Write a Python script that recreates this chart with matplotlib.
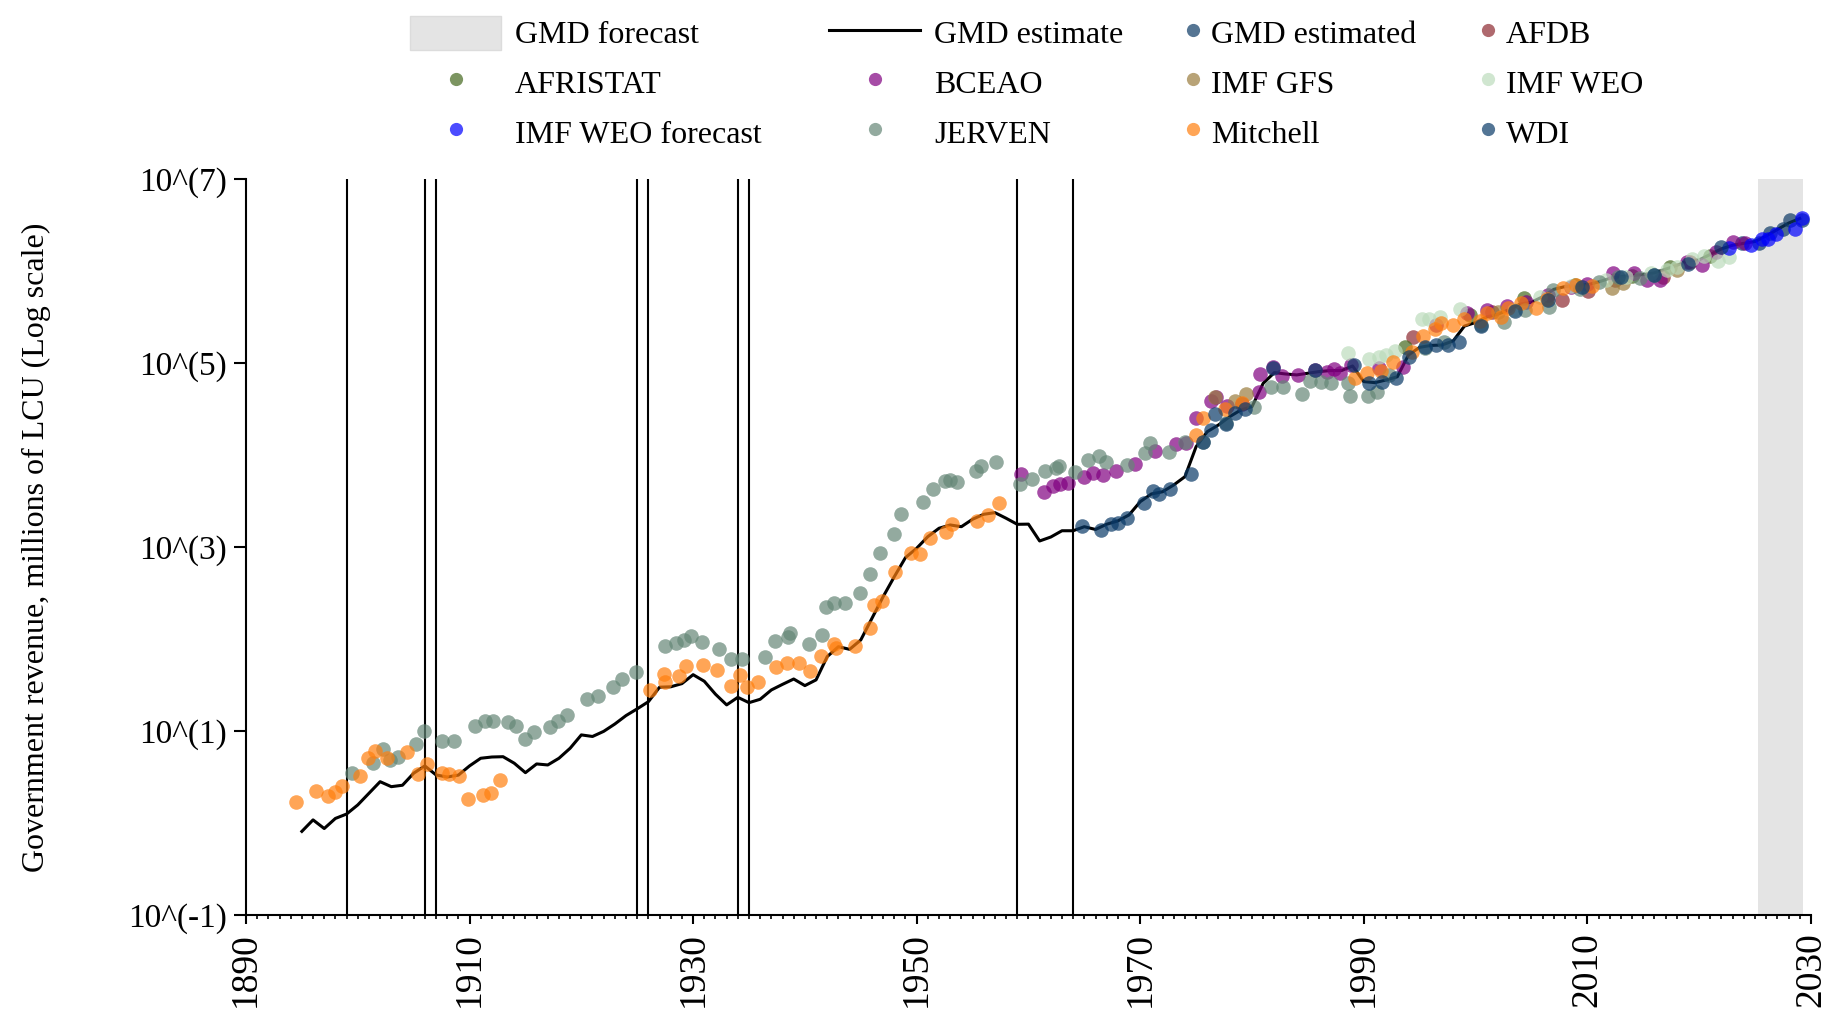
import matplotlib
matplotlib.use("Agg")
import matplotlib.pyplot as plt
from matplotlib.lines import Line2D
from matplotlib.patches import Patch
from matplotlib.ticker import FixedLocator, MultipleLocator, NullLocator

plt.rcParams['font.family'] = ['Liberation Serif', 'DejaVu Serif']

# GMD estimate (line), one value per year 1895-2029
gmd_years = list(range(1895, 2030))
gmd_vals = [0.81, 1.08, 0.87, 1.12, 1.25, 1.57, 2.10, 2.81, 2.48, 2.57,
            3.47, 4.17, 3.33, 3.16, 3.31, 4.17, 5.05, 5.21, 5.25, 4.46,
            3.52, 4.38, 4.27, 5.05, 6.49, 9.06, 8.71, 9.9, 11.9, 14.7,
            17.4, 20.8, 29.9, 30.2, 32.7, 40.9, 34.7, 25.1, 19.2, 23.2,
            20.3, 22.1, 27.9, 32.1, 36.7, 31.1, 35.9, 64.3, 82.4, 77.1,
            97.5, 168, 288, 475, 766, 968, 1294, 1596, 1734, 1660,
            2000, 2265, 2360, 2051, 1762, 1770, 1161, 1282, 1500, 1500,
            1660, 1549, 1766, 1919, 2228, 3105, 3767, 3981, 4721, 5808,
            12300, 17910, 21180, 26060, 30830, 33500, 60100, 78500, 75860, 74130,
            77270, 80540, 82600, 82600, 92680, 62660, 61090, 65310, 70790, 122200,
            147900, 154900, 156700, 173800, 251200, 275400, 316200, 338800, 380200, 436500,
            457100, 524800, 631000, 676100, 691800, 707900, 758600, 831800, 871000, 891300,
            912000, 955000, 1047000, 1148000, 1288000, 1318000, 1514000, 1738000, 1905000, 1995000,
            2089000, 2399000, 2818000, 3311000, 3715000]

# source series (year, value)
gmd_estimated_x = [2023.8, 2025.4, 2026.3, 2027.5, 2028.1, 2029.2]
gmd_estimated_y = [2018000, 2018000, 2588000, 2884000, 3548000, 3614000]

afdb_x = [1994.4, 2001.5, 2007.7, 2010.1, 2012.5, 2016.8, 2019.2]
afdb_y = [193200, 360000, 484200, 602600, 794300, 870000, 1259000]

afristat_x = [1993.7, 1999.5, 2004.3, 2008.9, 2014.0, 2017.4, 2021.0]
afristat_y = [147900, 330000, 504700, 707900, 880000, 1114000, 1450000]

bceao_x = [1959.3, 1961.4, 1962.2, 1962.8, 1963.5, 1965.0, 1965.8, 1966.7, 1967.8, 1969.5,
           1971.3, 1973.2, 1974.1, 1975.0, 1976.3, 1976.8, 1977.8, 1979.1, 1980.6, 1980.7,
           1981.9, 1982.7, 1984.1, 1985.6, 1986.7, 1987.3, 1987.9, 1988.9, 1991.4, 1993.5,
           1996.5, 1999.2, 2001.0, 2002.8, 2004.5, 2006.5, 2008.5, 2010.0, 2012.3, 2014.2,
           2015.3, 2016.5, 2018.9, 2020.3, 2021.5, 2023.0, 2024.1]
bceao_y = [6209, 3990, 4603, 4842, 4920, 5715, 6310, 6053, 6699, 7980,
           11140, 13060, 13400, 25120, 39000, 43050, 34360, 35810, 48750, 76740,
           89330, 72440, 73280, 84140, 80540, 86100, 78520, 94410, 87500, 91200,
           261200, 349900, 380200, 413000, 457100, 549500, 676100, 724400, 944100, 944100,
           798000, 798000, 1259000, 1156000, 1614000, 2070000, 2018000]

imf_gfs_x = [1976.7, 1978.5, 1979.5, 2002.0, 2012.2, 2013.2, 2018.0]
imf_gfs_y = [43050, 38900, 46030, 354800, 648600, 734500, 1030000]

imf_weo_x = [1988.6, 1990.5, 1991.4, 1992.0, 1992.8, 1995.2, 1995.8, 1996.8, 1998.6, 2003.4,
             2005.8, 2008.5, 2011.7, 2013.5, 2015.7, 2017.1, 2018.0, 2019.4, 2020.4, 2021.7,
             2022.7]
imf_weo_y = [128800, 109600, 115300, 122200, 136100, 300600, 300600, 318400, 382800, 376700,
             526000, 691800, 798000, 851100, 944100, 1026000, 1096000, 1340000, 1455000, 1297000,
             1432000]

imf_weo_fc_x = [2022.7, 2024.6, 2025.6, 2026.2, 2026.9, 2028.6, 2029.2]
imf_weo_fc_y = [1795000, 1905000, 2249000, 2198000, 2547000, 2884000, 3802000]

jerven_x = [1899.5, 1901.4, 1902.3, 1902.9, 1903.6, 1905.2, 1905.9, 1907.5, 1908.6, 1910.5,
            1911.4, 1912.1, 1913.4, 1914.2, 1915.0, 1915.8, 1917.2, 1917.9, 1918.7, 1920.5,
            1921.5, 1922.8, 1923.6, 1924.9, 1927.5, 1928.5, 1929.2, 1929.8, 1930.8, 1932.3,
            1933.4, 1934.4, 1936.4, 1937.3, 1938.5, 1938.65, 1940.4, 1941.5, 1941.9, 1942.6,
            1943.6, 1944.9, 1945.8, 1946.7, 1948.0, 1948.6, 1950.6, 1951.5, 1952.5, 1953.0,
            1953.6, 1955.3, 1955.8, 1957.1, 1959.2, 1960.3, 1961.5, 1962.5, 1962.7, 1964.2,
            1965.3, 1966.3, 1966.9, 1968.8, 1970.4, 1970.9, 1972.6, 1974.0, 1975.6, 1977.7,
            1980.2, 1981.7, 1982.8, 1984.5, 1985.2, 1986.2, 1987.1, 1988.6, 1988.75, 1990.4,
            1991.2, 1992.3, 1995.5, 1997.2, 2000.5, 2002.5, 2004.4, 2006.6, 2006.9, 2009.3,
            2011.0, 2012.75, 2014.7, 2016.0]
jerven_y = [3.47, 4.53, 6.32, 4.84, 5.18, 7.23, 10.1, 7.78, 7.85, 11.3,
            12.9, 12.9, 12.6, 11.3, 8.18, 9.84, 11.1, 12.9, 14.9, 22.2,
            24.0, 29.9, 36.7, 44.2, 84.3, 90.6, 97.7, 107, 93.5, 77.3,
            60.1, 60.1, 63.1, 95.5, 104, 115, 88.1, 110, 221, 248,
            248, 313, 509, 867, 1374, 2286, 3112, 4236, 5260, 5346,
            5129, 6761, 7586, 8318, 4842, 5445, 6761, 7161, 7586, 6531,
            8750, 9750, 8472, 7780, 10420, 13400, 10860, 13960, 13960, 22080,
            33500, 55340, 54450, 46030, 64270, 62660, 61090, 60120, 43750, 44160,
            48750, 74130, 144500, 170600, 258800, 281200, 376700, 409300, 622300, 631000,
            760000, 867000, 831800, 900000]

mitchell_x = [1894.5, 1896.3, 1897.3, 1898.0, 1898.6, 1900.2, 1900.9, 1901.5, 1902.6, 1904.4,
              1905.4, 1906.2, 1907.5, 1908.2, 1909.1, 1909.9, 1911.2, 1911.9, 1912.7, 1926.1,
              1927.4, 1927.5, 1928.7, 1929.4, 1930.9, 1932.1, 1933.4, 1934.2, 1934.8, 1935.8,
              1937.4, 1938.4, 1939.5, 1940.5, 1941.4, 1942.6, 1942.8, 1944.5, 1945.8, 1946.2,
              1946.9, 1948.1, 1949.5, 1950.3, 1951.2, 1952.6, 1953.2, 1955.4, 1956.4, 1957.4,
              1975.0, 1975.6, 1977.6, 1979.1, 1989.2, 1990.3, 1991.5, 1992.6, 1994.3, 1995.3,
              1996.35, 1996.9, 1998.0, 1999.0, 2000.4, 2001.0, 2002.3, 2002.9, 2004.1, 2005.4,
              2006.4, 2007.8, 2009.0, 2010.4]
mitchell_y = [1.71, 2.23, 1.96, 2.19, 2.55, 3.27, 5.13, 6.07, 5.05, 5.96,
              3.38, 4.38, 3.47, 3.38, 3.24, 1.82, 2.01, 2.14, 2.93, 27.9,
              41.7, 34.4, 39.9, 51.3, 52.1, 46.0, 31.0, 40.6, 29.9, 34.4,
              49.2, 54.3, 55.3, 45.3, 65.3, 87.5, 79.1, 84.7, 131, 234,
              261, 540, 853, 839, 1242, 1469, 1778, 1932, 2228, 3034,
              16370, 25000, 31330, 37070, 69180, 77270, 82600, 103300, 132700, 196300,
              232300, 274200, 258800, 298500, 285800, 352400, 318400, 392600, 452900, 392600,
              492000, 648600, 704700, 687100]

wdi_x = [1964.8, 1966.5, 1967.4, 1968.0, 1968.8, 1970.3, 1971.1, 1971.7, 1972.7, 1974.5,
         1975.6, 1976.3, 1976.7, 1977.7, 1978.5, 1979.4, 1981.9, 1985.6, 1989.1, 1990.5,
         1991.6, 1992.9, 1994.0, 1995.5, 1996.5, 1997.5, 1998.5, 2000.5, 2003.5, 2006.5,
         2009.5, 2013.0, 2016.0, 2019.0, 2022.0]
wdi_y = [1679, 1517, 1791, 1837, 2084, 3034, 4064, 3733, 4305, 6266,
         13840, 18840, 27670, 21880, 28580, 31840, 88920, 84530, 94410, 60670,
         62090, 68710, 117000, 150000, 156300, 156300, 169800, 251200, 363100, 478600,
         660700, 851100, 912000, 1202000, 1820000]

event_years = [1899, 1906, 1907, 1925, 1926, 1934, 1935, 1959, 1964]
forecast_span = (2025.25, 2029.25)

xticks = [1890, 1910, 1930, 1950, 1970, 1990, 2010, 2030]
yticks = [1e-1, 1e1, 1e3, 1e5, 1e7]
ytick_labels = ['10^(-1)', '10^(1)', '10^(3)', '10^(5)', '10^(7)']

series = [
    ('GMD estimated', gmd_estimated_x, gmd_estimated_y, '#0d3a66'),
    ('AFDB', afdb_x, afdb_y, '#8e2a30'),
    ('AFRISTAT', afristat_x, afristat_y, '#44691e'),
    ('BCEAO', bceao_x, bceao_y, '#800080'),
    ('IMF GFS', imf_gfs_x, imf_gfs_y, '#9a7d3e'),
    ('IMF WEO', imf_weo_x, imf_weo_y, '#bcdcbc'),
    ('IMF WEO forecast', imf_weo_fc_x, imf_weo_fc_y, '#0000ff'),
    ('JERVEN', jerven_x, jerven_y, '#658777'),
    ('Mitchell', mitchell_x, mitchell_y, '#ff7f0e'),
    ('WDI', wdi_x, wdi_y, '#0a3a68'),
]
ALPHA = 0.7

fig = plt.figure(figsize=(18.37, 10.19), dpi=100)
ax = fig.add_axes([0.1339, 0.1021, 0.8519, 0.7223])

ax.axvspan(*forecast_span, color='#e4e4e4', lw=0, zorder=0)
for yr in event_years:
    ax.axvline(yr, color='black', lw=1.5, zorder=1)

ax.plot(gmd_years, gmd_vals, color='black', lw=2.2, zorder=2)
for name, xs, ys, col in series:
    ax.scatter(xs, ys, s=110, color=col, alpha=ALPHA, lw=0, zorder=3)

ax.set_yscale('log')
ax.set_xlim(1890, 2030)
ax.set_ylim(1e-1, 1e7)
ax.yaxis.set_major_locator(FixedLocator(yticks))
ax.yaxis.set_minor_locator(NullLocator())
ax.set_yticklabels(ytick_labels)
ax.xaxis.set_major_locator(FixedLocator(xticks))
ax.xaxis.set_minor_locator(MultipleLocator(1))
ax.tick_params(axis='y', which='major', length=8.5, width=1.5, labelsize=24, pad=5)
ax.tick_params(axis='x', which='major', length=6.5, width=1.5, labelsize=27,
               labelrotation=90, pad=6)
ax.tick_params(axis='x', which='minor', length=3.2, width=1.2)
for sp in ['top', 'right']:
    ax.spines[sp].set_visible(False)
for sp in ['left', 'bottom']:
    ax.spines[sp].set_linewidth(1.5)

ax.set_ylabel('Government revenue, millions of LCU (Log scale)', fontsize=23)
ax.yaxis.set_label_coords(-0.1246, 0.5)

# legend: four columns placed separately
def dot(col):
    return Line2D([], [], ls='none', marker='o', markersize=9.5, color=col,
                  alpha=ALPHA, markeredgewidth=0)

colors = {n: c for n, _, _, c in series}
columns = [
    (0.2232, 2.85, 0.44, [(Patch(facecolor='#e4e4e4', edgecolor='#dcdcdc'), 'GMD forecast'),
                          (dot(colors['AFRISTAT']), 'AFRISTAT'),
                          (dot(colors['IMF WEO forecast']), 'IMF WEO forecast')]),
    (0.4513, 2.85, 0.44, [(Line2D([], [], color='black', lw=2.2), 'GMD estimate'),
                          (dot(colors['BCEAO']), 'BCEAO'),
                          (dot(colors['JERVEN']), 'JERVEN')]),
    (0.6443, 0.6, 0.25, [(dot(colors['GMD estimated']), 'GMD estimated'),
                         (dot(colors['IMF GFS']), 'IMF GFS'),
                         (dot(colors['Mitchell']), 'Mitchell')]),
    (0.8048, 0.6, 0.25, [(dot(colors['AFDB']), 'AFDB'),
                         (dot(colors['IMF WEO']), 'IMF WEO'),
                         (dot(colors['WDI']), 'WDI')]),
]
for x0, hl, pad, items in columns:
    fig.legend([h for h, _ in items], [l for _, l in items], loc='upper left',
               bbox_to_anchor=(x0, 0.9845), frameon=False, fontsize=23,
               borderpad=0, borderaxespad=0, handlelength=hl, handleheight=1.25,
               handletextpad=pad, labelspacing=0.47)

fig.savefig('out.png', dpi=100)
